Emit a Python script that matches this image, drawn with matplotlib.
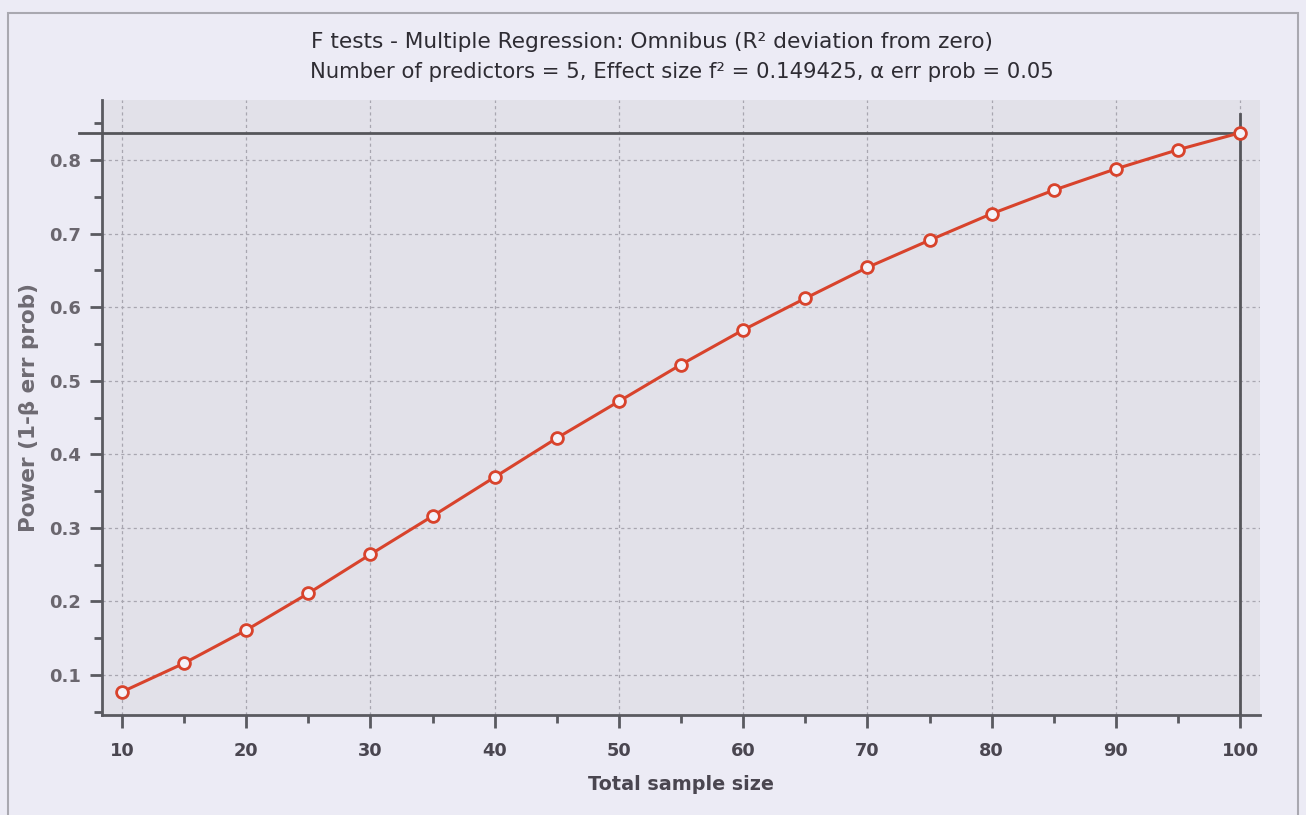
import matplotlib
matplotlib.use("Agg")
import matplotlib.pyplot as plt
from matplotlib.patches import Rectangle
from matplotlib.ticker import MultipleLocator

# Data
sample_size = [10, 15, 20, 25, 30, 35, 40, 45, 50, 55, 60, 65, 70, 75, 80, 85, 90, 95, 100]
power = [0.077, 0.116, 0.161, 0.211, 0.264, 0.316, 0.369, 0.422, 0.472, 0.522,
         0.569, 0.612, 0.654, 0.691, 0.727, 0.759, 0.788, 0.814, 0.837]
target_n = 100
target_power = 0.837
x_ticks = [10, 20, 30, 40, 50, 60, 70, 80, 90, 100]
y_ticks = [0.1, 0.2, 0.3, 0.4, 0.5, 0.6, 0.7, 0.8]
y_tick_labels = ["0.1", "0.2", "0.3", "0.4", "0.5", "0.6", "0.7", "0.8"]
title_line1 = "F tests - Multiple Regression: Omnibus (R² deviation from zero)"
title_line2 = "Number of predictors = 5, Effect size f² = 0.149425, α err prob = 0.05"
xlabel = "Total sample size"
ylabel = "Power (1-β err prob)"

plt.rcParams['font.family'] = ['DejaVu Sans']

W, H = 1306, 815
fig = plt.figure(figsize=(W / 100, H / 100), dpi=100)
fig.patch.set_facecolor('#ECEBF5')

# outer frame
fig.patches.append(Rectangle((8 / W, -0.01), (1298 - 8) / W, 1.01 - 13 / H,
                             transform=fig.transFigure, fill=False,
                             edgecolor='#A9A8B0', linewidth=1.5))

xmin, xmax = 8.39, 101.6
ymin, ymax = 0.0456, 0.8816
ax = fig.add_axes([102 / W, 1 - 715 / H, (1260 - 102) / W, (715 - 100) / H])
ax.set_facecolor('#E2E1E9')

ax.set_xlim(xmin, xmax)
ax.set_ylim(ymin, ymax)

ax.xaxis.set_minor_locator(MultipleLocator(5))
ax.yaxis.set_minor_locator(MultipleLocator(0.05))
ax.set_xticks(x_ticks)
ax.set_yticks(y_ticks)
ax.set_yticklabels(y_tick_labels)

for s in ['top', 'right']:
    ax.spines[s].set_visible(False)
for s in ['left', 'bottom']:
    ax.spines[s].set_color('#5A5A60')
    ax.spines[s].set_linewidth(2)

ax.tick_params(which='major', direction='out', length=9, width=2, color='#5A5A60')
ax.tick_params(which='minor', direction='out', length=6, width=2, color='#5A5A60')
ax.tick_params(axis='y', which='major', labelcolor='#6A666E', labelsize=13, pad=6)
ax.tick_params(axis='x', which='major', labelcolor='#4A4650', labelsize=12.8, pad=10.5)
for lab in ax.get_xticklabels() + ax.get_yticklabels():
    lab.set_fontweight('bold')

ax.grid(True, which='major', linestyle=(0, (2.5, 2.5)), color='#A8A6B0', linewidth=0.9)

# target lines
ax.axhline(target_power, xmin=-0.02, xmax=(target_n - xmin) / (xmax - xmin),
           color='#55555A', linewidth=2, clip_on=False, zorder=3)
ax.plot([target_n, target_n], [ymin, 0.862], color='#55555A', linewidth=2, zorder=3)

ax.plot(sample_size, power, color='#D8432C', linewidth=2.2, marker='o',
        markersize=8.5, markerfacecolor='#F4F2F8', markeredgecolor='#D8432C',
        markeredgewidth=2, zorder=4)

ax.set_xlabel(xlabel, fontsize=13.8, fontweight='bold', color='#4A4650', labelpad=11)
ax.set_ylabel(ylabel, fontsize=15.5, fontweight='bold', color='#6E6A72', labelpad=7)

fig.text(311 / W, 1 - 42 / H, title_line1, ha='left', va='center', fontsize=15.6, color='#2E2C33')
fig.text(310 / W, 1 - 72 / H, title_line2, ha='left', va='center', fontsize=15.2, color='#2E2C33')

fig.savefig('out.png', dpi=100, facecolor=fig.get_facecolor())
